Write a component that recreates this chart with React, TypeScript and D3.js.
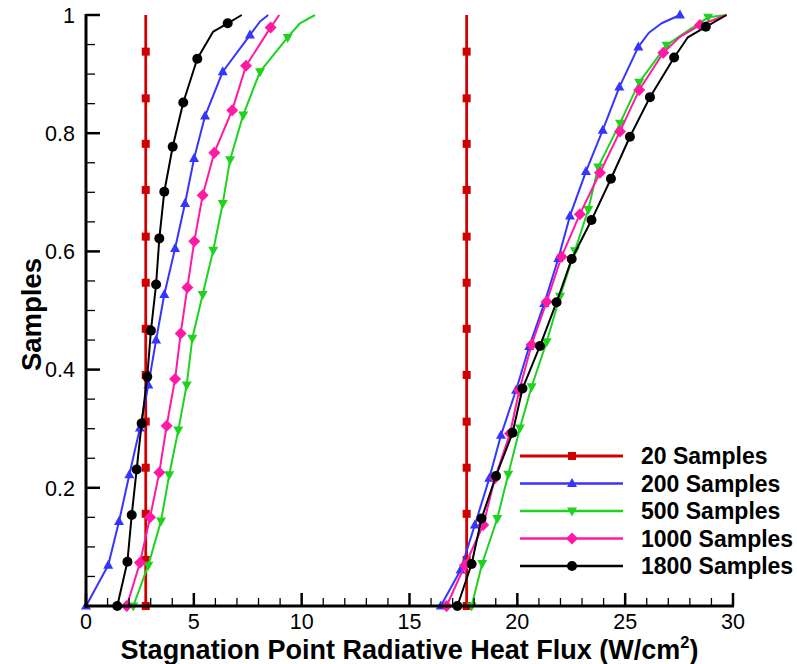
import React from "react";
import * as d3 from "d3";

type P = [number, number];

// ---- data ----
const xTicksMajor = [0, 5, 10, 15, 20, 25, 30];
const yTicksMajor = [0.2, 0.4, 0.6, 0.8, 1];
const yTickLabels = ["0.2", "0.4", "0.6", "0.8", "1"];

const legendLabels = ["20 Samples", "200 Samples", "500 Samples", "1000 Samples", "1800 Samples"];

// 20 samples: two vertical CDF steps
const s20LeftX = 2.77;
const s20RightX = 17.65;
const s20MarkY = [0, 0.078, 0.156, 0.234, 0.312, 0.391, 0.469, 0.547, 0.625, 0.704, 0.782, 0.859, 0.938];

// 200 samples
const s200LeftMarks: P[] = [[0, 0], [1.03, 0.069], [1.53, 0.143], [2.01, 0.222], [2.5, 0.301], [2.89, 0.374], [3.25, 0.45], [3.63, 0.527], [4.13, 0.605], [4.59, 0.681], [5.01, 0.757], [5.52, 0.829], [6.34, 0.904], [7.6, 0.966]];
const s200LeftBends: P[] = [[8.07, 0.989], [8.45, 1.0]];
const s200RightMarks: P[] = [[16.45, 0], [17.37, 0.061], [18.03, 0.137], [18.7, 0.216], [19.24, 0.289], [19.94, 0.365], [20.55, 0.439], [21.25, 0.512], [21.9, 0.588], [22.44, 0.66], [23.18, 0.735], [23.96, 0.805], [24.73, 0.878], [25.61, 0.946], [27.54, 1.0]];
const s200RightBends: P[] = [[26.1, 0.97], [26.69, 0.986]];

// 500 samples
const s500LeftMarks: P[] = [[2.19, 0], [2.89, 0.069], [3.48, 0.144], [3.86, 0.222], [4.28, 0.298], [4.67, 0.374], [4.93, 0.453], [5.41, 0.527], [5.9, 0.602], [6.34, 0.681], [6.68, 0.755], [7.29, 0.831], [8.07, 0.904], [9.35, 0.962]];
const s500LeftBends: P[] = [[9.92, 0.986], [10.62, 1.0]];
const s500RightMarks: P[] = [[17.88, 0], [18.37, 0.072], [19.07, 0.148], [19.58, 0.223], [20.12, 0.301], [20.66, 0.371], [21.36, 0.447], [21.98, 0.524], [22.67, 0.601], [23.29, 0.671], [23.75, 0.743], [24.76, 0.817], [25.65, 0.886], [26.92, 0.949], [28.85, 0.996]];
const s500RightBends: P[] = [[27.6, 0.966], [29.7, 1.0]];

// 1000 samples
const s1000LeftMarks: P[] = [[1.89, 0], [2.5, 0.073], [2.97, 0.15], [3.4, 0.226], [3.74, 0.305], [4.13, 0.384], [4.39, 0.461], [4.7, 0.539], [5.02, 0.617], [5.41, 0.695], [5.95, 0.767], [6.78, 0.839], [7.42, 0.914], [8.56, 0.979]];
const s1000LeftBends: P[] = [[8.96, 1.0]];
const s1000RightMarks: P[] = [[16.72, 0], [17.57, 0.069], [18.42, 0.137], [18.96, 0.216], [19.66, 0.292], [20.09, 0.365], [20.66, 0.442], [21.36, 0.515], [22.05, 0.591], [22.9, 0.663], [23.83, 0.733], [24.76, 0.803], [25.65, 0.873], [26.77, 0.936], [28.47, 0.983]];
const s1000RightBends: P[] = [[27.54, 0.963], [29.7, 1.0]];

// 1800 samples
const s1800LeftMarks: P[] = [[1.45, 0], [1.92, 0.075], [2.12, 0.154], [2.35, 0.231], [2.58, 0.309], [2.84, 0.388], [3.01, 0.466], [3.25, 0.544], [3.4, 0.622], [3.63, 0.701], [4.02, 0.777], [4.51, 0.852], [5.16, 0.926], [6.57, 0.986]];
const s1800LeftBends: P[] = [[5.9, 0.972], [7.22, 1.0]];
const s1800RightMarks: P[] = [[17.22, 0], [17.88, 0.071], [18.34, 0.148], [19.01, 0.22], [19.78, 0.293], [20.24, 0.368], [21.05, 0.44], [21.82, 0.514], [22.52, 0.587], [23.44, 0.653], [24.34, 0.723], [25.22, 0.794], [26.15, 0.861], [27.27, 0.928], [28.74, 0.98]];
const s1800RightBends: P[] = [[27.9, 0.962], [29.7, 1.0]];

// ---- layout ----
const W = 797;
const H = 664;
const X0 = 86, X1 = 733, Y0 = 606, Y1 = 15;
const FONT = "'Liberation Sans', Arial, Helvetica, sans-serif";

const xS = d3.scaleLinear().domain([0, 30]).range([X0, X1]);
const yS = d3.scaleLinear().domain([0, 1]).range([Y0, Y1]);

type Shape = "square" | "up" | "down" | "diamond" | "circle";

interface Series {
  color: string;
  shape: Shape;
  width: number;
  segments: { marks: P[]; line: P[] }[];
}

const merge = (m: P[], b: P[]): P[] => [...m, ...b].sort((a, c) => a[1] - c[1] || a[0] - c[0]);

const s20Left: P[] = s20MarkY.map((v) => [s20LeftX, v] as P);
const s20Right: P[] = s20MarkY.map((v) => [s20RightX, v] as P);

const series: Series[] = [
  {
    color: "#d00000", shape: "square", width: 2.8,
    segments: [
      { marks: s20Left, line: [[s20LeftX, 0], [s20LeftX, 1]] },
      { marks: s20Right, line: [[s20RightX, 0], [s20RightX, 1]] },
    ],
  },
  {
    color: "#3535ff", shape: "up", width: 2,
    segments: [
      { marks: s200LeftMarks, line: merge(s200LeftMarks, s200LeftBends) },
      { marks: s200RightMarks, line: merge(s200RightMarks, s200RightBends) },
    ],
  },
  {
    color: "#1ed21e", shape: "down", width: 2,
    segments: [
      { marks: s500LeftMarks, line: merge(s500LeftMarks, s500LeftBends) },
      { marks: s500RightMarks, line: merge(s500RightMarks, s500RightBends) },
    ],
  },
  {
    color: "#ff1aa4", shape: "diamond", width: 2,
    segments: [
      { marks: s1000LeftMarks, line: merge(s1000LeftMarks, s1000LeftBends) },
      { marks: s1000RightMarks, line: merge(s1000RightMarks, s1000RightBends) },
    ],
  },
  {
    color: "#000000", shape: "circle", width: 2,
    segments: [
      { marks: s1800LeftMarks, line: merge(s1800LeftMarks, s1800LeftBends) },
      { marks: s1800RightMarks, line: merge(s1800RightMarks, s1800RightBends) },
    ],
  },
];

function Marker({ shape, cx, cy, color }: { shape: Shape; cx: number; cy: number; color: string }) {
  switch (shape) {
    case "square":
      return <rect x={cx - 4} y={cy - 4} width={8} height={8} fill={color} />;
    case "up":
      return <path d={`M${cx},${cy - 5.5}L${cx + 5},${cy + 3.5}L${cx - 5},${cy + 3.5}Z`} fill={color} />;
    case "down":
      return <path d={`M${cx},${cy + 5.5}L${cx + 5},${cy - 3.5}L${cx - 5},${cy - 3.5}Z`} fill={color} />;
    case "diamond":
      return <path d={`M${cx},${cy - 6}L${cx + 6},${cy}L${cx},${cy + 6}L${cx - 6},${cy}Z`} fill={color} />;
    default:
      return <circle cx={cx} cy={cy} r={5} fill={color} />;
  }
}

export default function App() {
  const line = d3
    .line<P>()
    .x((d) => xS(d[0]))
    .y((d) => yS(d[1]));

  const xMinor = d3.range(0, 31, 1).filter((v) => v % 5 !== 0);
  const yMinor = d3.range(0.05, 1.0, 0.05).filter((v) => Math.abs(v * 5 - Math.round(v * 5)) > 1e-6);

  const legX0 = 520, legX1 = 623, legMX = 572, legTX = 641;
  const legY = [456, 483.5, 511, 538.5, 566];

  return (
    <svg width={W} height={H} style={{ display: "block", position: "absolute", left: 0, top: 0 }} fontFamily={FONT}>
      <rect width={W} height={H} fill="#fff" />

      {/* series */}
      {series.map((s, i) => (
        <g key={i}>
          {s.segments.map((seg, j) => (
            <g key={j}>
              <path d={line(seg.line) || ""} fill="none" stroke={s.color} strokeWidth={s.width} strokeLinejoin="round" />
              {seg.marks.map((p, k) => (
                <Marker key={k} shape={s.shape} cx={xS(p[0])} cy={yS(p[1])} color={s.color} />
              ))}
            </g>
          ))}
        </g>
      ))}

      {/* axes */}
      <g stroke="#000" fill="none">
        <line x1={X0} y1={Y1 - 1} x2={X0} y2={Y0 + 1.5} strokeWidth={3} />
        <line x1={X0 - 1.5} y1={Y0} x2={X1 + 1} y2={Y0} strokeWidth={3} />
        {xTicksMajor.map((v) => (
          <line key={"xm" + v} x1={xS(v)} x2={xS(v)} y1={Y0} y2={Y0 - 13} strokeWidth={2.5} />
        ))}
        {xMinor.map((v) => (
          <line key={"xn" + v} x1={xS(v)} x2={xS(v)} y1={Y0} y2={Y0 - 8} strokeWidth={1.3} />
        ))}
        {yTicksMajor.map((v) => (
          <line key={"ym" + v} x1={X0} x2={X0 + 14} y1={yS(v)} y2={yS(v)} strokeWidth={2.5} />
        ))}
        {yMinor.map((v) => (
          <line key={"yn" + v} x1={X0} x2={X0 + 9} y1={yS(v)} y2={yS(v)} strokeWidth={1.3} />
        ))}
      </g>

      {/* tick labels */}
      <g fontSize={21.5} fill="#000">
        {xTicksMajor.map((v) => (
          <text key={"xl" + v} x={xS(v)} y={629} textAnchor="middle">
            {String(v)}
          </text>
        ))}
        {yTicksMajor.map((v, i) => (
          <text key={"yl" + v} x={75} y={yS(v)} dy="0.36em" textAnchor="end">
            {yTickLabels[i]}
          </text>
        ))}
      </g>

      {/* axis titles */}
      <text x={(X0 + X1) / 2} y={659} textAnchor="middle" fontSize={27} fontWeight="bold">
        Stagnation Point Radiative Heat Flux (W/cm
        <tspan fontSize={16.5} dy={-11}>2</tspan>
        <tspan dy={11}>)</tspan>
      </text>
      <text transform={`translate(41,${(Y0 + Y1) / 2 + 4}) rotate(-90)`} textAnchor="middle" fontSize={27.5} fontWeight="bold">
        Samples
      </text>

      {/* legend */}
      {series.map((s, i) => (
        <g key={"lg" + i}>
          <line x1={legX0} x2={legX1} y1={legY[i]} y2={legY[i]} stroke={s.color} strokeWidth={s.width + 0.4} />
          <Marker shape={s.shape} cx={legMX} cy={legY[i]} color={s.color} />
          <text x={legTX} y={legY[i]} dy="0.36em" fontSize={23} fontWeight="bold">
            {legendLabels[i]}
          </text>
        </g>
      ))}
    </svg>
  );
}
